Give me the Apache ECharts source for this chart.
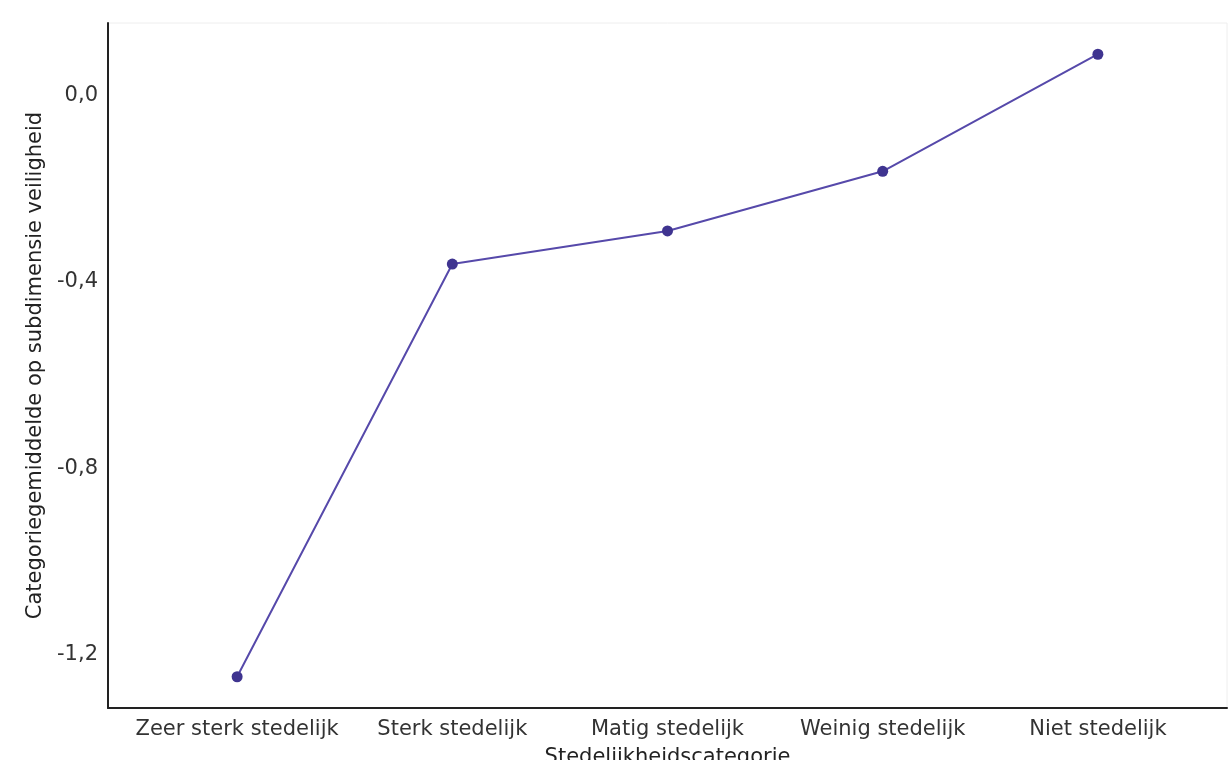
<!DOCTYPE html>
<html><head><meta charset="utf-8">
<script src="https://cdn.jsdelivr.net/npm/echarts@6/dist/echarts.min.js"></script>
<style>html,body{margin:0;padding:0;background:#fff}#c{width:1230px;height:760px}</style>
</head><body><div id="c"></div>
<script>
const categories = ["Zeer sterk stedelijk", "Sterk stedelijk", "Matig stedelijk", "Weinig stedelijk", "Niet stedelijk"];
const values = [-1.247, -0.362, -0.291, -0.163, 0.088];
const yTicks = [-1.2, -0.8, -0.4, 0.0];
const xTitle = "Stedelijkheidscategorie";
const yTitle = "Categoriegemiddelde op subdimensie veiligheid";

const chart = echarts.init(document.getElementById('c'));
const fontFam = "'DejaVu Sans', sans-serif";
chart.setOption({
  animation: false,
  grid: { left: 108, right: 3, top: 23, bottom: 52, show: true, borderColor: '#eeeeee', borderWidth: 1, outerBoundsMode: 'none', containLabel: false },
  xAxis: {
    type: 'value', min: -0.6, max: 4.6,
    splitLine: { show: false },
    axisLine: { show: true, onZero: false, lineStyle: { color: '#222', width: 2 } },
    axisTick: { show: false },
    axisLabel: { customValues: [0,1,2,3,4], formatter: v => categories[Math.round(v)] || '', color: '#333', fontSize: 21, fontFamily: fontFam, margin: 11 },
    name: xTitle, nameLocation: 'middle', nameGap: 39,
    nameTextStyle: { color: '#222', fontSize: 21, fontFamily: fontFam }
  },
  yAxis: {
    type: 'value', min: -1.314, max: 0.155,
    splitLine: { show: false },
    axisLine: { show: true, onZero: false, lineStyle: { color: '#222', width: 2 } },
    axisTick: { show: false },
    axisLabel: { customValues: yTicks, formatter: v => v.toFixed(1).replace('.', ','), color: '#333', fontSize: 21, fontFamily: fontFam, margin: 10 },
    name: yTitle, nameLocation: 'middle', nameGap: 62, nameRotate: 90,
    nameTextStyle: { color: '#222', fontSize: 21, fontFamily: fontFam }
  },
  series: [{
    type: 'line',
    data: values.map((v, i) => [i, v]),
    symbol: 'circle', symbolSize: 11,
    lineStyle: { color: '#5649aa', width: 2 },
    itemStyle: { color: '#3f3490' }
  }]
});
</script></body></html>
